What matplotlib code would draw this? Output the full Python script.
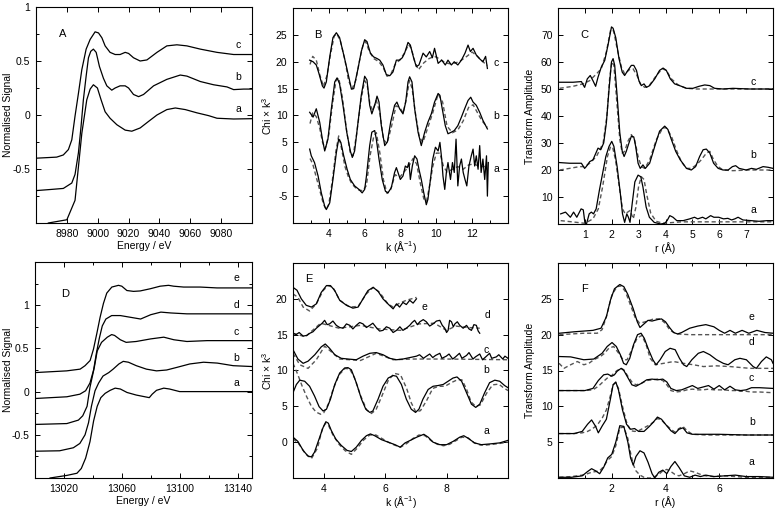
import matplotlib
matplotlib.use("Agg")
import matplotlib.pyplot as plt
from matplotlib.ticker import FixedLocator

plt.rcParams['font.family'] = ['Liberation Sans', 'DejaVu Sans']
plt.rcParams['font.size'] = 7
plt.rcParams['axes.unicode_minus'] = False
plt.rcParams['mathtext.fontset'] = 'custom'
plt.rcParams['mathtext.rm'] = 'Liberation Sans'
plt.rcParams['mathtext.it'] = 'Liberation Sans'

# ---------------- Panel A : XANES (Cu K-edge) ----------------
A_E_a = [8968, 8980, 8985.3, 8987.5, 8989.7, 8992.9, 8995.1, 8997.2, 8999.8, 9002.2, 9004.8, 9008,
         9012.4, 9017.8, 9022.1, 9027.5, 9032.9, 9038.4, 9044.8, 9050.3, 9056.8, 9064.3, 9071.9,
         9077.3, 9088.1, 9100]
A_a = [-1.0, -0.97, -0.79, -0.48, -0.17, 0.14, 0.24, 0.28, 0.25, 0.14, 0.03, -0.03, -0.09, -0.14,
       -0.15, -0.12, -0.06, 0.0, 0.05, 0.065, 0.05, 0.02, -0.006, -0.03, -0.037, -0.034]
A_E_b = [8960, 8969.1, 8977.7, 8983.2, 8985.3, 8987.5, 8989.2, 8990.7, 8992.5, 8994, 8995.5, 8997.2,
         8999, 9001.1, 9003.7, 9005.9, 9009.1, 9011.3, 9014.5, 9017.8, 9020, 9023.2, 9026.5, 9029.7,
         9036.2, 9044.8, 9053.5, 9057.8, 9066.5, 9075.1, 9083.8, 9088.1, 9094.6, 9100]
A_b = [-0.70, -0.69, -0.68, -0.63, -0.55, -0.35, -0.105, 0.14, 0.36, 0.53, 0.59, 0.61, 0.58, 0.45,
       0.34, 0.27, 0.23, 0.25, 0.27, 0.27, 0.25, 0.19, 0.17, 0.19, 0.27, 0.33, 0.37, 0.36, 0.31, 0.28,
       0.26, 0.235, 0.24, 0.24]
A_E_c = [8960, 8973.4, 8977.7, 8981, 8983.2, 8985.3, 8987.5, 8989.7, 8992.5, 8995.1, 8998.3, 9000.5,
         9002.7, 9004.8, 9008, 9011.3, 9014.5, 9017.8, 9020, 9023.2, 9027.5, 9031.9, 9038.4, 9044.8,
         9051.3, 9057.8, 9066.5, 9077.3, 9088.1, 9100]
A_c = [-0.40, -0.39, -0.37, -0.32, -0.23, -0.01, 0.20, 0.42, 0.61, 0.70, 0.77, 0.76, 0.715, 0.64,
       0.58, 0.56, 0.56, 0.58, 0.57, 0.53, 0.50, 0.51, 0.58, 0.64, 0.65, 0.64, 0.61, 0.58, 0.56, 0.56]

# ---------------- Panel B : EXAFS chi*k^3 ----------------
B_k_c = [2.93, 3.12, 3.3, 3.45, 3.64, 3.73, 3.86, 4.05, 4.23, 4.42, 4.6, 4.88, 5.13, 5.26, 5.39, 5.63,
         5.81, 6.0, 6.13, 6.32, 6.5, 6.69, 6.84, 7.02, 7.21, 7.4, 7.58, 7.77, 7.95, 8.1, 8.23, 8.42,
         8.55, 8.73, 8.88, 9.03, 9.26, 9.44, 9.63, 9.78, 9.9, 10.1, 10.3, 10.5, 10.65, 10.84, 11.0,
         11.2, 11.4, 11.6, 11.77, 11.9, 12.05, 12.23, 12.4, 12.6, 12.75, 12.85]
B_c = [20.3, 20.0, 19.4, 17.8, 15.5, 15.1, 16.25, 20.9, 24.5, 25.4, 24.5, 20.6, 16.9, 14.9, 15.0, 18.75,
       21.9, 24.1, 23.75, 21.6, 20.9, 20.6, 20.3, 19.4, 17.6, 17.4, 18.1, 20.3, 20.3, 20.75, 21.6,
       23.6, 23.1, 20.75, 19.1, 19.4, 21.6, 20.9, 21.9, 20.75, 22.5, 19.7, 20.3, 19.4, 20.3, 19.4,
       20.0, 19.4, 20.3, 21.6, 23.1, 21.9, 22.5, 21.25, 20.6, 20.0, 21.0, 18.75]
B_kf_c = [2.95, 3.1, 3.3, 3.5, 3.7, 3.9, 4.1, 4.3, 4.45, 4.65, 4.9, 5.1, 5.3, 5.5, 5.7, 5.9, 6.05,
          6.25, 6.5, 6.8, 7.05, 7.25, 7.45, 7.7, 7.95, 8.2, 8.45, 8.6, 8.8, 9.0, 9.3, 9.6, 9.9, 10.2,
          10.5, 10.8, 11.1, 11.4, 11.7, 12.0, 12.3, 12.6, 12.85]
B_fit_c = [19.5, 21.0, 20.3, 17.5, 15.4, 17.5, 21.5, 24.8, 25.2, 23.8, 20.3, 16.5, 15.0, 16.5, 20.0,
           23.0, 23.8, 22.0, 20.6, 20.0, 18.8, 17.3, 17.6, 19.5, 20.3, 21.5, 23.2, 22.5, 20.0, 18.5,
           19.8, 20.6, 21.0, 20.5, 19.8, 19.6, 19.8, 20.3, 21.0, 21.8, 21.0, 20.0, 19.3]
B_k_b = [2.93, 3.12, 3.3, 3.49, 3.64, 3.77, 3.95, 4.14, 4.33, 4.46, 4.6, 4.79, 5.0, 5.2, 5.31, 5.44,
         5.63, 5.81, 6.0, 6.13, 6.28, 6.4, 6.56, 6.69, 6.8, 6.93, 7.12, 7.27, 7.45, 7.67, 7.8, 7.95,
         8.14, 8.29, 8.42, 8.51, 8.64, 8.79, 8.98, 9.16, 9.35, 9.53, 9.72, 9.9, 10.1, 10.2, 10.33,
         10.5, 10.65, 10.84, 11.0, 11.2, 11.4, 11.58, 11.77, 11.92, 12.05, 12.23, 12.42, 12.6, 12.85]
B_b = [10.6, 9.7, 11.25, 8.75, 5.6, 3.4, 5.6, 11.25, 16.25, 17.0, 15.9, 11.9, 6.9, 3.4, 2.2, 3.4,
       8.75, 13.75, 17.3, 16.6, 11.9, 10.3, 11.9, 13.6, 12.5, 8.1, 4.4, 5.1, 8.75, 11.9, 12.5, 11.25,
       10.3, 12.5, 16.25, 17.2, 16.25, 11.25, 6.9, 4.4, 6.9, 8.75, 10.3, 12.5, 14.1, 13.75, 11.25,
       8.1, 6.6, 6.9, 7.2, 8.1, 9.7, 11.25, 12.8, 13.4, 12.5, 11.9, 10.6, 9.1, 7.5]
B_kf_b = [2.95, 3.1, 3.3, 3.5, 3.65, 3.8, 4.0, 4.2, 4.4, 4.55, 4.75, 5.0, 5.2, 5.35, 5.55, 5.8, 6.0,
          6.15, 6.3, 6.45, 6.65, 6.85, 7.05, 7.25, 7.5, 7.75, 7.95, 8.15, 8.35, 8.5, 8.65, 8.85, 9.05,
          9.25, 9.5, 9.8, 10.1, 10.35, 10.6, 10.9, 11.2, 11.5, 11.8, 12.05, 12.3, 12.55, 12.85]
B_fit_b = [8.5, 10.5, 9.8, 7.5, 5.0, 3.8, 6.5, 12.0, 16.5, 17.0, 13.5, 7.0, 3.0, 2.5, 6.5, 13.0, 16.5,
           15.5, 12.0, 11.0, 12.8, 10.5, 5.5, 4.8, 8.0, 11.8, 11.5, 10.5, 13.5, 16.5, 15.0, 10.0, 6.0,
           5.0, 7.5, 10.5, 14.0, 12.5, 8.0, 6.8, 7.3, 9.0, 11.5, 12.0, 10.5, 9.0, 7.8]
B_k_a = [2.93, 3.02, 3.2, 3.4, 3.58, 3.77, 3.86, 4.05, 4.23, 4.42, 4.55, 4.67, 4.83, 5.02, 5.2, 5.44,
         5.68, 5.86, 6.0, 6.1, 6.28, 6.4, 6.56, 6.65, 6.8, 6.98, 7.16, 7.3, 7.49, 7.67, 7.77, 7.86,
         7.99, 8.14, 8.27, 8.38, 8.47, 8.55, 8.66, 8.79, 8.92, 9.03, 9.16, 9.3, 9.44, 9.53, 9.67, 9.8,
         9.95, 10.1, 10.2, 10.3, 10.37, 10.47, 10.56, 10.65, 10.79, 10.9, 11.0, 11.1, 11.2, 11.3,
         11.4, 11.5, 11.6, 11.7, 11.82, 11.95, 12.05, 12.14, 12.23, 12.33, 12.42, 12.5, 12.6, 12.7,
         12.8, 12.85, 12.9]
B_a = [3.75, 2.5, 1.25, -1.25, -4.4, -6.9, -7.5, -6.25, -1.9, 3.1, 5.6, 5.0, 2.5, 0.0, -1.9, -3.1,
       -3.75, -4.4, -3.75, -1.25, 4.4, 6.9, 7.2, 5.6, 1.9, -1.9, -4.1, -4.4, -3.4, -0.6, 0.3, -0.6,
       -1.9, -1.25, 0.6, 0.3, 1.25, -1.9, 0.6, 2.5, 1.9, 0.0, -1.9, -4.4, -6.6, -5.6, -1.9, 1.9, 4.1,
       3.4, 5.0, 1.9, -1.25, -3.75, -0.6, 1.25, -1.9, 1.25, -0.6, 5.6, -3.1, 0.6, 1.9, -0.6, -1.9,
       -3.1, 0.6, 2.5, 3.75, 0.6, 2.5, 0.0, 4.4, -0.6, 1.9, -1.9, 2.5, -5.0, 1.25]
B_kf_a = [2.95, 3.1, 3.3, 3.5, 3.7, 3.85, 4.0, 4.2, 4.4, 4.55, 4.7, 4.9, 5.1, 5.3, 5.6, 5.9, 6.1, 6.3,
          6.5, 6.65, 6.85, 7.05, 7.25, 7.45, 7.7, 7.95, 8.2, 8.45, 8.7, 8.9, 9.1, 9.3, 9.45, 9.6, 9.8,
          10.0, 10.2, 10.4, 10.6, 10.9, 11.2, 11.5, 11.8, 12.1, 12.4, 12.85]
B_fit_a = [2.0, 1.0, -1.5, -4.0, -6.5, -7.5, -6.5, -2.0, 3.5, 6.2, 4.0, 0.5, -1.5, -2.8, -3.8, -4.0,
           -3.0, 2.5, 6.0, 6.8, 3.0, -2.0, -4.5, -3.8, -1.0, -1.5, -0.5, 0.5, 2.0, 1.0, -2.5, -5.5,
           -6.0, -3.5, 0.5, 3.0, 3.0, 0.5, -0.5, 0.0, 0.5, 0.0, 0.8, 1.0, 0.5, 0.5]

# ---------------- Panel C : Fourier transforms ----------------
C_r_a = [0.1, 0.28, 0.46, 0.58, 0.7, 0.86, 0.94, 1.0, 1.06, 1.16, 1.24, 1.32, 1.42, 1.54, 1.66, 1.78,
         1.9, 2.0, 2.08, 2.2, 2.32, 2.4, 2.48, 2.56, 2.62, 2.68, 2.76, 2.86, 2.98, 3.08, 3.16, 3.28,
         3.4, 3.58, 3.82, 3.97, 4.06, 4.16, 4.28, 4.42, 4.66, 4.9, 5.08, 5.2, 5.38, 5.5, 5.68, 5.8,
         5.98, 6.16, 6.32, 6.46, 6.58, 6.7, 6.88, 7.18, 7.48, 7.78, 8.0]
C_a = [3.75, 4.4, 2.5, 4.4, 2.5, 5.6, 5.25, 0.6, 0.0, 3.75, 4.4, 3.75, 5.6, 12.5, 18.75, 25.0, 28.75,
       30.6, 28.75, 21.25, 11.25, 3.75, 0.6, 3.75, 2.5, 0.6, 7.5, 15.6, 18.1, 17.5, 13.75, 6.25, 2.5,
       0.6, 0.0, 0.25, 1.25, 3.1, 2.5, 1.25, 1.25, 1.9, 2.5, 1.9, 2.5, 1.9, 3.1, 2.5, 2.5, 1.9, 2.1,
       1.5, 1.9, 2.5, 1.5, 1.25, 1.0, 1.25, 1.25]
C_rf_a = [0.1, 0.7, 1.0, 1.3, 1.5, 1.66, 1.84, 1.96, 2.04, 2.14, 2.28, 2.4, 2.5, 2.68, 2.8, 2.9, 3.0,
          3.1, 3.2, 3.3, 3.45, 3.65, 3.9, 4.2, 4.6, 5.0, 6.0, 7.0, 8.0]
C_fit_a = [1.25, 0.6, 0.25, 1.9, 5.6, 13.75, 25.0, 28.75, 28.1, 23.75, 13.75, 5.6, 3.75, 5.0, 1.9,
           6.25, 14.0, 17.5, 16.5, 11.0, 4.0, 1.0, 0.3, 0.5, 0.8, 0.8, 0.8, 0.8, 0.8]
C_r_b = [0.06, 0.43, 0.87, 0.99, 1.05, 1.18, 1.3, 1.49, 1.59, 1.7, 1.8, 1.9, 1.99, 2.05, 2.11, 2.2,
         2.3, 2.39, 2.46, 2.54, 2.64, 2.73, 2.82, 2.89, 2.98, 3.06, 3.16, 3.25, 3.41, 3.6, 3.78, 3.97,
         4.09, 4.22, 4.38, 4.55, 4.78, 4.96, 5.12, 5.27, 5.4, 5.52, 5.65, 5.79, 5.96, 6.14, 6.33,
         6.49, 6.61, 6.74, 7.0, 7.2, 7.38, 7.63, 7.82, 8.0]
C_b = [22.75, 22.5, 22.5, 20.6, 21.25, 23.1, 23.75, 28.1, 27.5, 30.0, 37.5, 50.0, 60.0, 61.25, 58.75,
       47.5, 33.75, 26.9, 25.0, 26.9, 30.0, 32.5, 32.25, 28.75, 22.5, 20.6, 21.9, 20.6, 22.5, 28.75,
       34.4, 36.25, 35.0, 31.25, 26.9, 23.75, 20.6, 20.0, 21.25, 25.0, 27.5, 27.75, 26.25, 22.5,
       20.6, 20.0, 20.0, 21.25, 21.6, 20.6, 20.0, 20.6, 20.25, 21.25, 21.0, 20.6]
C_rf_b = [0.06, 0.43, 0.8, 1.0, 1.18, 1.43, 1.68, 1.82, 1.92, 2.0, 2.08, 2.17, 2.3, 2.39, 2.48, 2.6,
          2.73, 2.85, 2.98, 3.1, 3.23, 3.41, 3.66, 3.9, 4.03, 4.22, 4.4, 4.59, 4.78, 4.96, 5.15, 5.33,
          5.52, 5.65, 5.79, 5.96, 6.14, 6.5, 7.13, 8.0]
C_fit_b = [20.0, 20.6, 21.25, 21.25, 22.5, 25.0, 30.0, 40.0, 53.75, 60.0, 58.75, 47.5, 31.25, 26.25,
           26.9, 30.6, 33.1, 31.25, 25.0, 21.25, 20.6, 23.75, 31.25, 35.6, 35.6, 32.5, 27.5, 23.1,
           20.6, 20.6, 21.9, 23.75, 26.25, 26.9, 23.75, 21.25, 20.0, 19.75, 20.0, 20.0]
C_r_c = [0.06, 0.56, 0.87, 0.99, 1.09, 1.2, 1.3, 1.4, 1.49, 1.61, 1.74, 1.86, 1.99, 2.05, 2.15, 2.27,
         2.39, 2.48, 2.6, 2.73, 2.82, 2.92, 3.01, 3.1, 3.2, 3.29, 3.41, 3.6, 3.78, 3.91, 4.03, 4.18,
         4.34, 4.59, 4.78, 5.02, 5.25, 5.46, 5.65, 5.83, 6.14, 6.51, 7.13, 8.0]
C_c = [52.5, 52.5, 52.75, 50.6, 53.75, 55.0, 53.1, 51.0, 54.4, 58.1, 60.6, 66.25, 73.0, 72.5, 69.0,
       61.25, 56.25, 55.0, 56.9, 58.75, 58.75, 56.9, 53.1, 51.25, 51.9, 50.6, 51.25, 53.75, 56.9,
       57.75, 56.9, 53.75, 51.9, 51.0, 50.25, 50.25, 51.0, 51.5, 51.25, 50.25, 50.0, 50.25, 50.0, 50.0]
C_rf_c = [0.06, 0.56, 0.93, 1.18, 1.43, 1.61, 1.8, 1.96, 2.07, 2.2, 2.36, 2.48, 2.67, 2.79, 2.94,
          3.06, 3.23, 3.41, 3.66, 3.88, 4.03, 4.22, 4.47, 4.78, 5.15, 8.0]
C_fit_c = [50.25, 51.0, 51.9, 53.1, 55.6, 57.5, 63.75, 72.0, 71.5, 65.0, 58.1, 55.6, 57.25, 57.5, 55.0,
           51.9, 50.6, 51.5, 55.0, 57.5, 56.9, 53.75, 51.5, 50.25, 50.0, 50.0]

# ---------------- Panel D : XANES (second edge) ----------------
D_E_e = [13000, 13021.9, 13031.2, 13034.6, 13038.1, 13040.4, 13042.7, 13045, 13047.3, 13049.6,
         13053.1, 13057.7, 13060, 13063.5, 13068.1, 13072.7, 13079.6, 13086.5, 13092.3, 13095.8,
         13102.7, 13114.2, 13125.8, 13150]
D_e = [0.22, 0.24, 0.26, 0.30, 0.36, 0.49, 0.67, 0.86, 1.02, 1.14, 1.21, 1.23, 1.22, 1.17, 1.16,
       1.165, 1.19, 1.22, 1.23, 1.22, 1.21, 1.21, 1.2, 1.2]
D_E_d = [13000, 13022, 13031, 13035, 13038, 13040.5, 13042.5, 13044.5, 13046.5, 13049, 13053, 13059,
         13066, 13073, 13080, 13087, 13094, 13105, 13150]
D_d = [-0.08, -0.06, -0.03, 0.01, 0.1, 0.25, 0.45, 0.62, 0.76, 0.84, 0.88, 0.88, 0.86, 0.84, 0.89,
       0.92, 0.91, 0.9, 0.9]
D_E_c = [13000, 13022, 13030, 13033, 13036, 13038, 13041, 13043, 13046, 13050, 13053, 13055, 13059,
         13063, 13070, 13080, 13089, 13096, 13105, 13119, 13150]
D_c = [-0.38, -0.37, -0.33, -0.28, -0.17, 0.05, 0.28, 0.47, 0.57, 0.63, 0.66, 0.65, 0.6, 0.57, 0.58,
       0.61, 0.63, 0.6, 0.58, 0.59, 0.59]
D_E_b = [13000, 13017, 13026.5, 13031, 13034.6, 13037, 13039, 13041.5, 13044, 13047, 13051, 13054,
         13058, 13061, 13064.6, 13070, 13077, 13084, 13091, 13098, 13107, 13116.5, 13126, 13137, 13150]
D_b = [-0.69, -0.685, -0.65, -0.6, -0.5, -0.36, -0.17, 0.01, 0.1, 0.18, 0.22, 0.26, 0.32, 0.35, 0.34,
       0.3, 0.26, 0.24, 0.25, 0.28, 0.32, 0.34, 0.33, 0.3, 0.29]
D_E_a = [13010.4, 13022, 13029, 13032, 13035, 13038, 13040.5, 13043, 13045.5, 13048.5, 13052,
         13055.4, 13059, 13063.6, 13070, 13076, 13079, 13081, 13084, 13089, 13093, 13100, 13114, 13150]
D_a = [-1.0, -0.97, -0.945, -0.89, -0.77, -0.58, -0.34, -0.17, -0.07, -0.02, 0.015, 0.04, 0.03, -0.01,
       -0.04, -0.06, -0.07, -0.03, 0.015, 0.04, 0.03, 0.0, 0.0, 0.0]

# ---------------- Panel E : EXAFS chi*k^3 ----------------
E_k_a = [3.0, 3.16, 3.33, 3.49, 3.6, 3.7, 3.85, 3.98, 4.07, 4.15, 4.25, 4.39, 4.57, 4.76, 4.9, 5.06,
         5.23, 5.39, 5.52, 5.66, 5.88, 6.1, 6.32, 6.49, 6.65, 6.82, 7.03, 7.26, 7.4, 7.56, 7.78, 8.0,
         8.21, 8.43, 8.56, 8.7, 8.91, 9.13, 9.4, 9.73, 10.0]
E_a = [0.7, 0.1, -1.15, -1.95, -2.05, -1.4, 0.45, 2.05, 2.85, 2.65, 1.6, 0.45, -0.45, -1.15, -1.3,
       -0.7, 0.25, 0.9, 1.15, 0.9, 0.35, 0.0, -0.35, -0.7, -0.1, 0.25, 0.7, 1.1, 0.7, 0.0, -0.35,
       -0.35, 0.1, 0.7, 0.9, 0.55, -0.1, -0.35, -0.25, -0.1, 0.25]
E_kf_a = [3.0, 3.2, 3.4, 3.6, 3.8, 3.95, 4.05, 4.15, 4.3, 4.5, 4.7, 4.9, 5.1, 5.3, 5.5, 5.7, 5.9, 6.1,
          6.3, 6.5, 6.7, 6.9, 7.1, 7.3, 7.5, 7.7, 7.9, 8.1, 8.3, 8.5, 8.7, 8.9, 9.1, 9.3, 9.5, 9.7, 10.0]
E_fit_a = [0.5, -0.3, -1.6, -2.3, -0.8, 1.8, 2.6, 2.4, 1.0, -0.3, -1.2, -1.7, -0.8, 0.3, 1.0, 1.0, 0.5,
           0.0, -0.4, -0.7, -0.2, 0.5, 1.0, 0.9, 0.2, -0.3, -0.5, -0.3, 0.2, 0.7, 0.6, -0.1, -0.4,
           -0.4, -0.3, -0.2, 0.0]
E_k_b = [3.0, 3.11, 3.22, 3.38, 3.54, 3.7, 3.85, 3.98, 4.09, 4.22, 4.36, 4.52, 4.68, 4.79, 4.9, 5.06,
         5.23, 5.37, 5.5, 5.6, 5.77, 5.93, 6.1, 6.26, 6.37, 6.53, 6.69, 6.85, 6.99, 7.1, 7.23, 7.4,
         7.56, 7.72, 7.89, 8.05, 8.21, 8.34, 8.49, 8.65, 8.81, 8.95, 9.08, 9.24, 9.4, 9.57, 9.73, 9.89,
         10.0]
E_b = [6.9, 8.05, 8.65, 8.5, 7.8, 6.45, 4.95, 4.35, 4.6, 6.0, 8.05, 9.65, 10.35, 10.4, 10.1, 8.3, 6.0,
       4.6, 4.15, 4.35, 6.0, 7.8, 8.95, 9.3, 9.2, 8.05, 6.0, 4.6, 4.15, 4.6, 6.0, 7.35, 7.8, 7.9, 8.05,
       8.5, 8.95, 9.1, 8.5, 6.9, 5.3, 4.85, 5.3, 6.9, 8.3, 8.65, 8.5, 7.9, 7.6]
E_kf_b = [3.0, 3.15, 3.3, 3.45, 3.6, 3.75, 3.9, 4.0, 4.15, 4.3, 4.5, 4.7, 4.85, 5.0, 5.2, 5.4, 5.55,
          5.7, 5.9, 6.1, 6.3, 6.5, 6.7, 6.85, 7.0, 7.15, 7.35, 7.55, 7.75, 7.95, 8.15, 8.35, 8.5, 8.65,
          8.8, 8.95, 9.1, 9.3, 9.5, 9.7, 9.85, 10.0]
E_fit_b = [11.0, 9.5, 7.8, 6.3, 5.0, 4.2, 3.9, 4.1, 5.3, 7.3, 9.4, 10.3, 10.2, 9.0, 6.5, 4.5, 4.0, 4.5,
           6.5, 8.6, 9.6, 9.4, 7.5, 5.5, 4.2, 4.4, 5.8, 7.5, 7.8, 7.8, 8.3, 8.7, 8.7, 7.4, 5.6, 5.0,
           5.2, 6.8, 8.0, 8.1, 7.6, 7.2]
E_k_c = [3.0, 3.16, 3.33, 3.49, 3.71, 3.92, 4.05, 4.19, 4.36, 4.57, 4.79, 5.06, 5.28, 5.5, 5.71, 5.93,
         6.15, 6.37, 6.58, 6.8, 7.02, 7.12, 7.25, 7.31, 7.45, 7.55, 7.64, 7.78, 7.85, 7.99, 8.08, 8.2,
         8.29, 8.42, 8.5, 8.65, 8.73, 8.86, 8.94, 9.08, 9.17, 9.3, 9.4, 9.47, 9.62, 9.7, 9.83, 9.9,
         10.0]
E_c = [12.9, 11.6, 11.0, 11.3, 12.2, 13.3, 13.7, 13.1, 12.2, 11.7, 11.6, 11.5, 12.0, 12.4, 12.5, 12.2,
       11.7, 11.5, 11.6, 11.8, 12.0, 12.2, 11.7, 11.9, 12.3, 11.8, 12.1, 12.4, 11.7, 12.0, 12.3, 11.6,
       11.9, 12.4, 11.7, 12.1, 12.5, 11.6, 11.9, 12.3, 11.5, 12.0, 12.4, 11.7, 11.9, 12.2, 11.6, 12.0,
       11.7]
E_kf_c = [3.0, 3.22, 3.49, 3.76, 4.03, 4.25, 4.52, 5.2, 5.71, 6.26, 6.9, 8.0, 10.0]
E_fit_c = [12.4, 10.8, 10.3, 11.5, 13.4, 12.6, 11.6, 11.4, 12.4, 11.5, 11.6, 11.6, 11.5]
E_k_d = [3.0, 3.1, 3.2, 3.33, 3.45, 3.55, 3.65, 3.76, 3.87, 3.95, 4.03, 4.11, 4.19, 4.3, 4.41, 4.52,
         4.63, 4.74, 4.85, 4.95, 5.06, 5.17, 5.28, 5.39, 5.5, 5.6, 5.71, 5.82, 5.93, 6.04, 6.15, 6.26,
         6.37, 6.48, 6.58, 6.69, 6.8, 6.88, 6.96, 7.05, 7.13, 7.24, 7.34, 7.45, 7.56, 7.67, 7.78, 7.86,
         7.94, 8.0, 8.05, 8.1, 8.16, 8.22, 8.27, 8.35, 8.43, 8.54, 8.65, 8.73, 8.81, 8.89, 8.97, 9.03,
         9.08]
E_d = [15.2, 15.0, 15.3, 14.8, 14.9, 15.2, 15.4, 15.9, 16.3, 16.6, 17.0, 16.4, 16.5, 16.9, 16.3, 16.0,
       15.9, 16.5, 16.3, 15.8, 16.3, 16.7, 16.5, 16.0, 16.3, 16.6, 16.0, 15.5, 15.6, 16.1, 15.9, 15.3,
       15.6, 16.1, 15.6, 15.9, 16.3, 16.7, 17.0, 16.4, 16.8, 17.1, 16.8, 16.2, 16.5, 16.9, 17.0, 16.3,
       15.9, 15.3, 15.6, 17.0, 16.8, 16.1, 16.5, 16.8, 16.3, 15.9, 16.3, 15.8, 15.6, 16.4, 16.3, 15.5,
       15.2]
E_kf_d = [3.0, 3.4, 3.9, 4.5, 5.2, 5.8, 6.5, 7.1, 7.6, 8.0, 8.3, 8.7, 9.08]
E_fit_d = [15.2, 14.7, 16.6, 15.9, 16.3, 15.8, 15.6, 16.5, 16.6, 15.6, 16.2, 16.0, 15.9]
E_k_e = [3.0, 3.13, 3.27, 3.43, 3.6, 3.76, 3.92, 4.09, 4.22, 4.36, 4.52, 4.74, 4.95, 5.12, 5.28, 5.44,
         5.61, 5.77, 5.93, 6.09, 6.26, 6.37, 6.47, 6.58, 6.69, 6.8, 6.91, 7.02]
E_e = [21.6, 21.2, 20.0, 19.1, 18.85, 19.3, 20.9, 21.85, 21.85, 21.15, 19.8, 19.1, 18.7, 18.85, 20.0,
       21.15, 21.6, 21.05, 20.0, 19.3, 18.6, 19.3, 18.85, 19.5, 19.2, 19.8, 19.4, 20.0]
E_kf_e = [3.0, 3.16, 3.33, 3.54, 3.76, 3.98, 4.14, 4.3, 4.52, 4.85, 5.12, 5.39, 5.61, 5.82, 6.09, 6.26,
          6.47, 6.69, 7.02]
E_fit_e = [20.7, 20.2, 18.85, 18.3, 19.3, 21.15, 21.85, 21.6, 19.8, 18.85, 18.95, 20.7, 21.6, 20.9,
           19.3, 18.85, 19.4, 19.8, 20.2]

# ---------------- Panel F : Fourier transforms ----------------
F_r_e = [0.05, 0.6, 1.3, 1.6, 1.8, 1.95, 2.1, 2.3, 2.45, 2.6, 2.8, 2.95, 3.05, 3.2, 3.35, 3.5, 3.7,
         3.85, 4.0, 4.15, 4.3, 4.45, 4.6, 4.9, 5.2, 5.5, 5.8, 6.0, 6.2, 6.4, 6.6, 6.85, 7.1, 7.4, 7.7,
         8.0]
F_e = [20.2, 20.4, 20.6, 20.9, 22.5, 24.8, 26.4, 27.0, 26.7, 25.6, 23.6, 21.8, 21.0, 21.5, 22.0, 21.9,
       22.1, 22.2, 21.8, 21.0, 20.3, 20.1, 20.3, 20.9, 21.2, 21.4, 21.1, 20.6, 20.2, 20.6, 20.2, 20.6,
       20.2, 20.6, 20.3, 20.2]
F_rf_e = [0.05, 0.96, 1.46, 1.64, 1.8, 2.01, 2.2, 2.35, 2.51, 2.69, 2.88, 3.04, 3.25, 3.56, 3.8, 3.99,
          4.17, 4.42, 4.91, 8.0]
F_fit_e = [20.0, 20.2, 20.2, 20.7, 22.5, 25.6, 26.7, 26.8, 26.0, 24.2, 22.3, 21.6, 21.8, 22.2, 22.2,
           21.6, 20.6, 20.1, 20.0, 20.0]
F_r_d = [0.04, 0.47, 0.96, 1.33, 1.64, 1.83, 2.01, 2.17, 2.32, 2.44, 2.54, 2.67, 2.81, 2.96, 3.09,
         3.21, 3.37, 3.53, 3.65, 3.8, 3.99, 4.17, 4.36, 4.52, 4.67, 4.79, 4.98, 5.22, 5.41, 5.65, 5.9,
         6.15, 6.33, 6.58, 6.77, 7.01, 7.26, 7.38, 7.57, 7.75, 7.94, 8.0]
F_d = [16.95, 16.9, 16.5, 16.6, 17.4, 18.35, 18.9, 18.35, 17.2, 16.0, 15.8, 16.7, 18.6, 20.0, 20.2,
       19.5, 17.9, 16.5, 15.8, 16.5, 17.65, 18.1, 17.9, 16.7, 15.8, 15.55, 16.5, 17.4, 17.65, 17.2,
       16.5, 16.0, 15.8, 16.5, 16.7, 16.5, 15.55, 15.3, 16.25, 16.9, 16.5, 16.0]
F_rf_d = [0.04, 0.22, 0.47, 0.72, 0.96, 1.15, 1.33, 1.58, 1.73, 1.89, 2.07, 2.26, 2.42, 2.57, 2.75,
          2.94, 3.12, 3.28, 3.43, 3.62, 3.93, 4.3, 4.67, 5.04, 5.41, 5.9, 6.4, 7.14, 8.0]
F_fit_d = [16.0, 15.3, 15.8, 16.25, 15.8, 16.0, 16.5, 16.95, 17.4, 18.1, 18.35, 17.4, 16.5, 16.5, 17.9,
           19.5, 19.9, 18.6, 16.7, 15.8, 16.0, 16.25, 16.0, 15.8, 15.55, 15.65, 15.55, 15.3, 15.3]
F_r_c = [0.05, 0.5, 1.0, 1.3, 1.5, 1.7, 1.85, 2.0, 2.1, 2.2, 2.35, 2.45, 2.6, 2.75, 2.9, 3.1, 3.3, 3.5,
         3.7, 3.9, 4.05, 4.2, 4.4, 4.6, 4.8, 5.0, 5.2, 5.4, 5.6, 5.8, 6.0, 6.2, 6.4, 6.6, 6.8, 7.0,
         7.2, 7.5, 8.0]
F_c = [12.2, 12.2, 12.2, 12.5, 13.6, 14.4, 14.5, 14.2, 14.4, 14.9, 15.3, 15.0, 14.0, 13.0, 12.8, 13.2,
       13.7, 13.8, 13.7, 13.8, 13.4, 12.5, 12.2, 12.3, 12.6, 12.9, 12.5, 12.7, 12.9, 12.4, 12.9, 12.3,
       12.8, 12.3, 12.2, 12.3, 12.6, 12.6, 12.5]
F_fit_c = [12.2, 12.2, 12.2, 12.3, 12.8, 13.5, 14.0, 14.3, 14.7, 15.0, 15.3, 15.1, 14.2, 13.4, 13.0,
           13.2, 13.6, 13.7, 13.8, 13.6, 13.0, 12.2, 12.0, 12.1, 12.3, 12.4, 12.3, 12.3, 12.4, 12.3,
           12.3, 12.3, 12.2, 12.2, 12.1, 12.1, 12.0, 12.0, 11.9]
F_r_b = [0.05, 0.6, 0.9, 1.1, 1.25, 1.4, 1.5, 1.65, 1.8, 1.95, 2.05, 2.15, 2.25, 2.4, 2.55, 2.7, 2.85,
         3.0, 3.2, 3.4, 3.55, 3.7, 3.85, 4.0, 4.2, 4.35, 4.5, 4.65, 4.8, 5.0, 5.5, 6.0, 7.0, 8.0]
F_b = [6.2, 6.2, 6.5, 7.5, 8.1, 7.2, 6.3, 7.3, 8.2, 11.0, 13.0, 13.4, 12.3, 9.5, 7.5, 6.8, 6.9, 6.5,
       6.5, 7.2, 7.8, 8.5, 8.2, 7.5, 6.6, 6.2, 6.8, 7.0, 6.3, 6.1, 6.1, 6.1, 6.0, 6.0]
F_fit_b = [6.2, 6.2, 6.3, 6.5, 6.8, 7.2, 7.6, 8.4, 9.5, 11.5, 13.0, 13.3, 12.5, 10.0, 7.8, 6.6, 6.5,
           6.6, 7.0, 7.4, 7.8, 8.3, 8.1, 7.5, 6.8, 6.4, 6.9, 7.2, 6.6, 6.1, 6.0, 6.0, 6.0, 6.0]
F_r_a = [0.05, 0.5, 0.9, 1.1, 1.25, 1.4, 1.55, 1.7, 1.85, 2.0, 2.15, 2.3, 2.45, 2.6, 2.7, 2.8, 2.9,
         3.05, 3.2, 3.35, 3.5, 3.6, 3.75, 3.9, 4.05, 4.2, 4.35, 4.5, 4.7, 4.9, 5.1, 5.3, 5.5, 5.8, 6.2,
         6.6, 7.0, 7.5, 8.0]
F_a = [0.1, 0.1, 0.3, 0.9, 1.3, 1.0, 0.6, 1.5, 2.8, 3.3, 5.0, 7.3, 7.2, 5.0, 2.8, 1.8, 3.0, 3.8, 3.5,
       2.2, 0.6, 0.0, 0.8, 1.1, 0.6, 1.6, 2.3, 1.5, 0.3, 0.1, 0.4, 0.2, 0.4, 0.2, 0.3, 0.4, 0.2, 0.2,
       0.1]
F_fit_a = [0.1, 0.2, 0.4, 0.6, 0.8, 0.9, 1.0, 1.6, 2.5, 3.0, 4.5, 7.0, 7.1, 5.5, 3.5, 1.9, 1.0, 0.4,
           0.1, 0.0, 0.0, 0.2, 0.5, 1.0, 1.2, 0.9, 0.5, 0.3, 0.6, 1.0, 0.8, 0.5, 0.3, 0.2, 0.3, 0.2,
           0.1, 0.1, 0.1]

# ---------------- figure ----------------
W, H = 777, 513
fig = plt.figure(figsize=(W / 100, H / 100), dpi=100)


def box(l, r, t, b):
    return [l / W, 1 - b / H, (r - l) / W, (b - t) / H]


SOLID = dict(color='black', lw=0.9, solid_joinstyle='round')
DASH = dict(color='#555555', lw=1.0, ls=(0, (3, 2)))


def style(ax, xlim, ylim, xmaj, xmin, ymaj, ymin, xlab, ylab, ylab_x, xlabpad=2):
    ax.set_xlim(*xlim)
    ax.set_ylim(*ylim)
    ax.xaxis.set_major_locator(FixedLocator(xmaj))
    ax.xaxis.set_minor_locator(FixedLocator(xmin))
    ax.yaxis.set_major_locator(FixedLocator(ymaj))
    ax.yaxis.set_minor_locator(FixedLocator(ymin))
    ax.tick_params(which='both', direction='in', top=True, right=True, labelsize=7.5, width=0.7)
    ax.tick_params(which='major', length=3.5, pad=4)
    ax.tick_params(which='minor', length=2.5)
    for s in ax.spines.values():
        s.set_linewidth(0.8)
    ax.set_xlabel(xlab, fontsize=7.5, labelpad=xlabpad)
    ax.set_ylabel(ylab, fontsize=7.5)
    ax.yaxis.set_label_coords(ylab_x, 0.5)


# Panel A
axA = fig.add_axes(box(36, 252, 7, 223))
axA.plot(A_E_a, A_a, **SOLID)
axA.plot(A_E_b, A_b, **SOLID)
axA.plot(A_E_c, A_c, **SOLID)
style(axA, (8960, 9100), (-1, 1), [8980, 9000, 9020, 9040, 9060, 9080], [],
      [-0.5, 0, 0.5, 1], [-0.75, -0.25, 0.25, 0.75], 'Energy / eV', 'Normalised Signal', -0.108)
axA.set_yticklabels(['-0.5', '0', '0.5', '1'])
axA.text(8975, 0.72, 'A', fontsize=8)
for lab, yy in zip(['c', 'b', 'a'], [0.62, 0.32, 0.03]):
    axA.text(9089, yy, lab, fontsize=7.5)

# Panel B
axB = fig.add_axes(box(293, 508, 8, 223))
axB.plot(B_kf_c, B_fit_c, **DASH)
axB.plot(B_k_c, B_c, **SOLID)
axB.plot(B_kf_b, B_fit_b, **DASH)
axB.plot(B_k_b, B_b, **SOLID)
axB.plot(B_kf_a, B_fit_a, **DASH)
axB.plot(B_k_a, B_a, **SOLID)
style(axB, (2, 14), (-10, 30), [4, 6, 8, 10, 12], [3, 5, 7, 9, 11, 13],
      [-5, 0, 5, 10, 15, 20, 25], [], 'k (Å$^{-1}$)', 'Chi × k$^{3}$', -0.088, xlabpad=0.5)
axB.set_yticklabels(['-5', '0', '5', '10', '15', '20', '25'])
axB.text(3.2, 24.5, 'B', fontsize=8)
for lab, yy in zip(['c', 'b', 'a'], [19.3, 9.3, -0.5]):
    axB.text(13.2, yy, lab, fontsize=7.5)

# Panel C
axC = fig.add_axes(box(558, 773, 8, 224))
axC.plot(C_rf_c, C_fit_c, **DASH)
axC.plot(C_r_c, C_c, **SOLID)
axC.plot(C_rf_b, C_fit_b, **DASH)
axC.plot(C_r_b, C_b, **SOLID)
axC.plot(C_rf_a, C_fit_a, **DASH)
axC.plot(C_r_a, C_a, **SOLID)
style(axC, (0, 8), (0, 80), [1, 2, 3, 4, 5, 6, 7], [],
      [10, 20, 30, 40, 50, 60, 70], [], 'r (Å)', 'Transform Amplitude', -0.105)
axC.text(0.85, 69, 'C', fontsize=8)
for lab, yy in zip(['c', 'b', 'a'], [51.5, 24.5, 4.0]):
    axC.text(7.15, yy, lab, fontsize=7.5)

# Panel D
axD = fig.add_axes(box(35, 252, 262, 478))
for xs, ys in [(D_E_e, D_e), (D_E_d, D_d), (D_E_c, D_c), (D_E_b, D_b), (D_E_a, D_a)]:
    axD.plot(xs, ys, **SOLID)
style(axD, (13000, 13150), (-1, 1.5), [13020, 13060, 13100, 13140], [13040, 13080, 13120],
      [-0.5, 0, 0.5, 1], [-0.75, -0.25, 0.25, 0.75, 1.25], 'Energy / eV', 'Normalised Signal', -0.10)
axD.set_yticklabels(['-0.5', '0', '0.5', '1'])
axD.text(13018, 1.1, 'D', fontsize=8)
for lab, yy in zip(['e', 'd', 'c', 'b', 'a'], [1.28, 0.97, 0.66, 0.35, 0.06]):
    axD.text(13137, yy, lab, fontsize=7.5)

# Panel E
axE = fig.add_axes(box(293, 508, 263, 478))
for (kf, yf, k, y) in [(E_kf_e, E_fit_e, E_k_e, E_e), (E_kf_d, E_fit_d, E_k_d, E_d),
                       (E_kf_c, E_fit_c, E_k_c, E_c), (E_kf_b, E_fit_b, E_k_b, E_b),
                       (E_kf_a, E_fit_a, E_k_a, E_a)]:
    axE.plot(kf, yf, **DASH)
    axE.plot(k, y, **SOLID)
style(axE, (3, 10), (-5, 25), [4, 6, 8], [5, 7, 9], [0, 5, 10, 15, 20], [],
      'k (Å$^{-1}$)', 'Chi × k$^{3}$', -0.088, xlabpad=0.5)
axE.text(3.4, 22.3, 'E', fontsize=8)
for lab, xx, yy in zip(['e', 'd', 'c', 'b', 'a'], [7.2, 9.25, 9.2, 9.2, 9.2],
                       [18.4, 17.3, 12.5, 9.7, 1.2]):
    axE.text(xx, yy, lab, fontsize=7.5)

# Panel F
axF = fig.add_axes(box(558, 773, 263, 478))
for (rf, yf, r, y) in [(F_rf_e, F_fit_e, F_r_e, F_e), (F_rf_d, F_fit_d, F_r_d, F_d),
                       (F_r_c, F_fit_c, F_r_c, F_c), (F_r_b, F_fit_b, F_r_b, F_b),
                       (F_r_a, F_fit_a, F_r_a, F_a)]:
    axF.plot(rf, yf, **DASH)
    axF.plot(r, y, **SOLID)
style(axF, (0, 8), (0, 30), [2, 4, 6], [1, 3, 5, 7], [5, 10, 15, 20, 25], [],
      'r (Å)', 'Transform Amplitude', -0.105)
axF.text(0.85, 26.0, 'F', fontsize=8)
for lab, yy in zip(['e', 'd', 'c', 'b', 'a'], [22.0, 18.6, 13.5, 7.4, 1.8]):
    axF.text(7.1, yy, lab, fontsize=7.5)

fig.savefig('out.png', dpi=100)
